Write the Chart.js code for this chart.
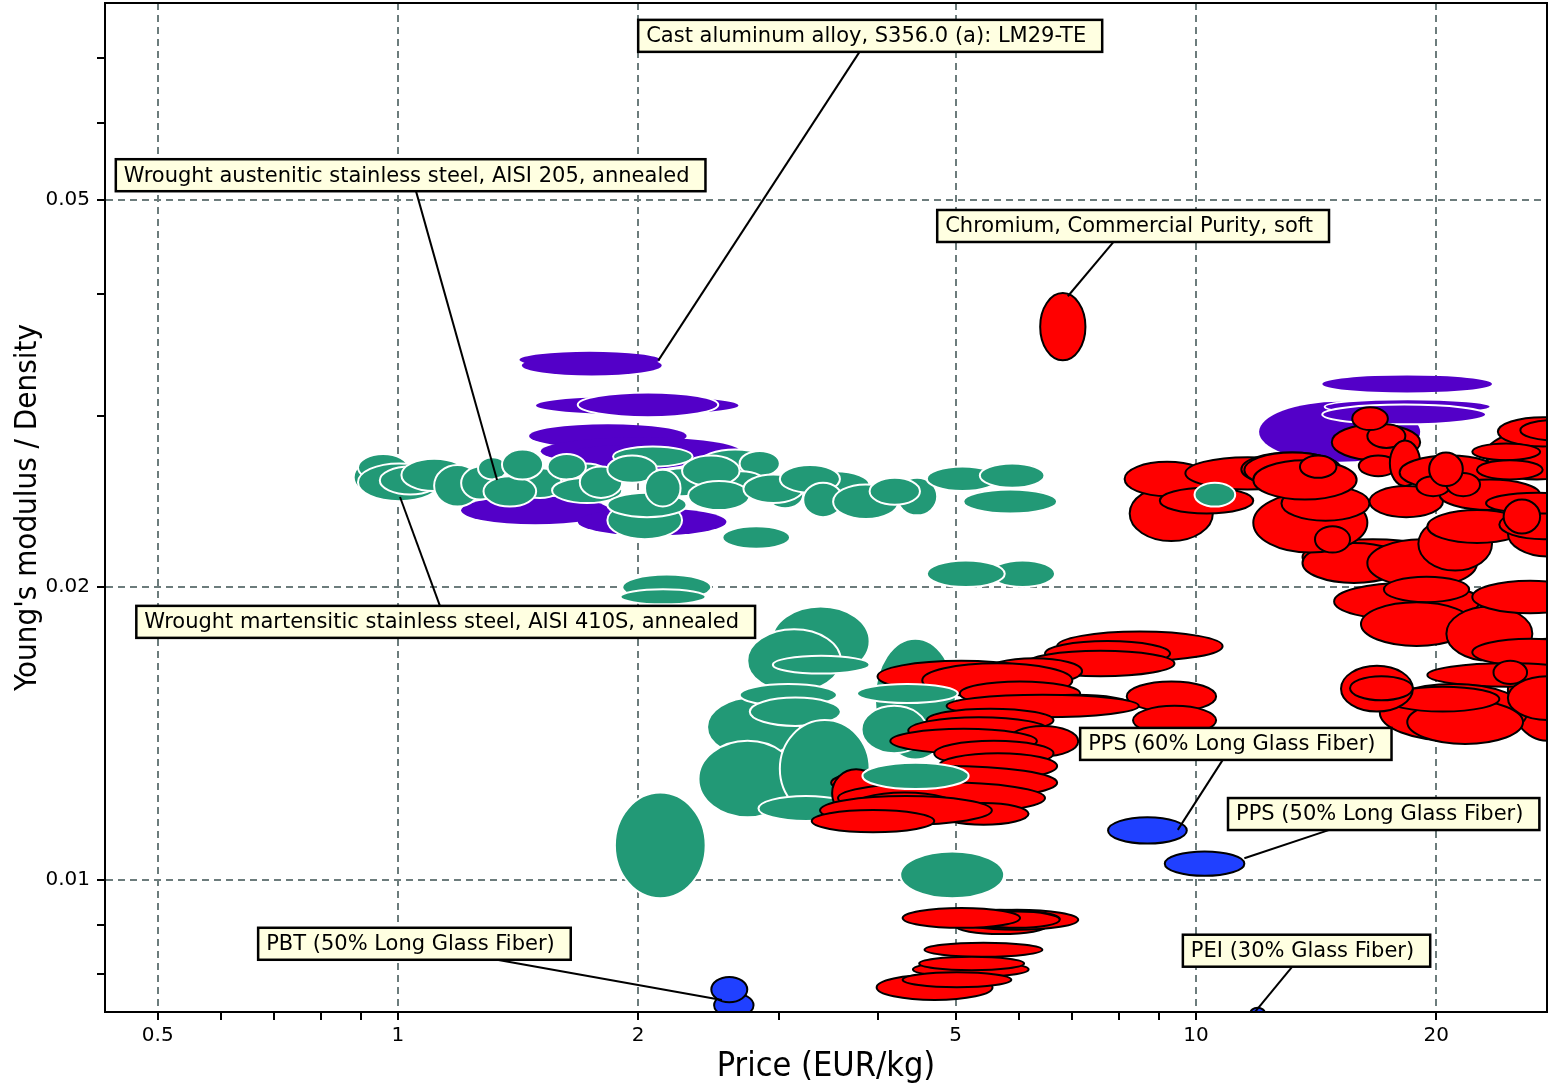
<!DOCTYPE html>
<html>
<head>
<meta charset="utf-8">
<script src="https://cdn.jsdelivr.net/npm/chart.js@4.4.1/dist/chart.umd.min.js"></script>
<style>
html,body{margin:0;padding:0;background:#ffffff;}
#wrap{width:1558px;height:1090px;}
</style>
</head>
<body>
<div id="wrap"><canvas id="c" width="1558" height="1090"></canvas></div>
<script>
// ---------- axes ----------
const xTickValues = [0.5, 0.6, 0.7, 0.8, 0.9, 1, 2, 3, 4, 5, 6, 7, 8, 9, 10, 20];
const xTickLabels = [0.5, 1, 2, 5, 10, 20];
const yTickValues = [0.008, 0.009, 0.01, 0.02, 0.03, 0.04, 0.05, 0.06, 0.07];
const yTickLabels = [0.01, 0.02, 0.05];
const xRange = [0.4294, 27.54];
const yRange = [0.007318, 0.07966];
const xTitle = 'Price (EUR/kg)';
const yTitle = "Young's modulus / Density";

// ---------- material ranges: [price low, price high, E/rho low, E/rho high] ----------
const alloyRanges = [
  [12.0, 19.1, 0.0269, 0.0310],
  [14.4, 23.5, 0.0317, 0.0330],
  [1.49, 2.67, 0.0301, 0.0314],
  [1.46, 2.30, 0.0278, 0.0294],
  [1.51, 2.68, 0.0267, 0.0285],
  [1.60, 2.39, 0.0264, 0.0280],
  [1.20, 1.84, 0.0232, 0.0248],
  [1.68, 2.58, 0.0226, 0.0241],
  [1.42, 2.13, 0.0336, 0.0349],
  [1.43, 2.14, 0.0330, 0.0346]
];
const alloyOutlinedRanges = [
  [1.68, 2.52, 0.0299, 0.0317],
  [14.5, 23.4, 0.0301, 0.0312],
  [14.4, 23.1, 0.0294, 0.0308]
];
const steelRanges = [
  [0.88, 1.00, 0.0249, 0.0270],
  [0.891, 1.03, 0.0257, 0.0274],
  [0.891, 1.13, 0.0245, 0.0268],
  [0.949, 1.13, 0.0249, 0.0266],
  [1.05, 1.25, 0.0250, 0.0268],
  [1.01, 1.22, 0.0251, 0.0271],
  [1.11, 1.27, 0.0242, 0.0267],
  [1.20, 1.34, 0.0246, 0.0266],
  [1.26, 1.37, 0.0258, 0.0272],
  [1.40, 1.62, 0.0247, 0.0265],
  [1.28, 1.49, 0.0242, 0.0260],
  [1.35, 1.52, 0.0258, 0.0277],
  [1.60, 1.85, 0.0250, 0.0268],
  [1.54, 1.72, 0.0258, 0.0274],
  [1.86, 2.34, 0.0266, 0.0279],
  [1.56, 1.91, 0.0244, 0.0259],
  [1.69, 1.91, 0.0247, 0.0266],
  [1.83, 2.11, 0.0256, 0.0273],
  [1.83, 2.27, 0.0224, 0.0245],
  [1.83, 2.30, 0.0236, 0.0250],
  [2.10, 2.45, 0.0248, 0.0265],
  [2.04, 2.26, 0.0242, 0.0264],
  [2.39, 2.93, 0.0260, 0.0277],
  [2.68, 3.01, 0.0260, 0.0276],
  [2.50, 2.90, 0.0247, 0.0263],
  [2.27, 2.68, 0.0254, 0.0273],
  [2.31, 2.76, 0.0240, 0.0257],
  [2.90, 3.22, 0.0241, 0.0257],
  [2.71, 3.22, 0.0244, 0.0261],
  [3.20, 3.90, 0.0247, 0.0263],
  [3.01, 3.58, 0.0250, 0.0267],
  [3.22, 3.61, 0.0236, 0.0256],
  [3.51, 4.24, 0.0235, 0.0255],
  [4.22, 4.74, 0.0237, 0.0259],
  [3.90, 4.51, 0.0243, 0.0259],
  [4.60, 5.65, 0.0251, 0.0266],
  [5.36, 6.46, 0.0253, 0.0268],
  [5.11, 6.70, 0.0238, 0.0252],
  [2.55, 3.10, 0.0219, 0.0231],
  [5.52, 6.66, 0.0200, 0.0213],
  [4.60, 5.76, 0.0200, 0.0213],
  [1.91, 2.47, 0.0194, 0.0206],
  [1.90, 2.43, 0.0192, 0.0199],
  [2.94, 3.90, 0.0162, 0.0191],
  [2.74, 3.59, 0.0156, 0.0181],
  [2.95, 3.90, 0.0163, 0.0170],
  [2.44, 3.19, 0.0134, 0.0154],
  [2.68, 3.55, 0.0151, 0.0159],
  [2.76, 3.59, 0.0144, 0.0154],
  [2.38, 3.16, 0.0116, 0.0139],
  [3.01, 3.90, 0.0116, 0.0146],
  [2.83, 3.72, 0.0115, 0.0122],
  [3.96, 5.00, 0.0133, 0.0177],
  [3.81, 4.60, 0.0135, 0.0151],
  [1.87, 2.43, 0.00958, 0.0123],
  [4.26, 5.75, 0.00958, 0.0107]
];
const metalRanges = [
  [6.38, 7.27, 0.0342, 0.0401],
  [6.70, 10.8, 0.0168, 0.0180],
  [6.47, 9.28, 0.0166, 0.0176],
  [6.13, 9.40, 0.0162, 0.0172],
  [5.45, 7.20, 0.0159, 0.0169],
  [3.99, 6.47, 0.0156, 0.0168],
  [4.54, 7.00, 0.0154, 0.0167],
  [5.06, 7.16, 0.0151, 0.0160],
  [8.19, 10.6, 0.0149, 0.0160],
  [8.34, 10.6, 0.0141, 0.0151],
  [6.02, 8.29, 0.0148, 0.0155],
  [4.87, 8.48, 0.0147, 0.0155],
  [4.60, 6.63, 0.0142, 0.0150],
  [4.36, 6.55, 0.0138, 0.0147],
  [5.81, 7.12, 0.0134, 0.0144],
  [4.14, 6.32, 0.0135, 0.0143],
  [4.70, 6.63, 0.0131, 0.0139],
  [4.76, 6.70, 0.0127, 0.0135],
  [3.49, 6.70, 0.0121, 0.0131],
  [3.50, 4.02, 0.0116, 0.0130],
  [3.56, 6.47, 0.0117, 0.0126],
  [3.68, 5.06, 0.0114, 0.0123],
  [4.76, 6.17, 0.0114, 0.0120],
  [3.38, 5.55, 0.0114, 0.0122],
  [3.30, 4.70, 0.0112, 0.0118],
  [5.00, 6.50, 0.00880, 0.00914],
  [5.00, 7.12, 0.00889, 0.00932],
  [4.78, 6.75, 0.00893, 0.00932],
  [5.29, 6.75, 0.00893, 0.00928],
  [4.29, 6.02, 0.00893, 0.00936],
  [4.57, 6.42, 0.00834, 0.00862],
  [4.42, 6.17, 0.00795, 0.00824],
  [4.50, 6.09, 0.00808, 0.00834],
  [3.98, 5.56, 0.00753, 0.00799],
  [4.29, 5.87, 0.00776, 0.00804],
  [8.26, 10.5, 0.0223, 0.0254],
  [8.14, 10.4, 0.0248, 0.0269],
  [9.01, 11.8, 0.0238, 0.0253],
  [9.70, 13.9, 0.0252, 0.0272],
  [13.6, 20.4, 0.0206, 0.0224],
  [13.6, 18.3, 0.0202, 0.0222],
  [16.4, 22.5, 0.0200, 0.0224],
  [19.0, 23.5, 0.0208, 0.0236],
  [19.5, 26.0, 0.0222, 0.0240],
  [14.9, 22.7, 0.0185, 0.0202],
  [17.2, 22.0, 0.0193, 0.0205],
  [16.1, 22.2, 0.0174, 0.0193],
  [20.6, 26.4, 0.0168, 0.0191],
  [22.2, 31.0, 0.0188, 0.0203],
  [24.6, 31.0, 0.0215, 0.0240],
  [24.0, 31.0, 0.0224, 0.0240],
  [11.9, 16.2, 0.0220, 0.0246],
  [11.8, 16.4, 0.0217, 0.0250],
  [12.8, 16.5, 0.0234, 0.0254],
  [14.1, 15.6, 0.0217, 0.0231],
  [11.4, 15.2, 0.0254, 0.0275],
  [11.5, 15.2, 0.0253, 0.0275],
  [11.8, 15.9, 0.0246, 0.0270],
  [13.5, 15.0, 0.0259, 0.0273],
  [14.8, 19.1, 0.0270, 0.0294],
  [16.4, 18.3, 0.0278, 0.0294],
  [15.7, 17.4, 0.0290, 0.0306],
  [16.0, 17.9, 0.0260, 0.0273],
  [17.5, 19.1, 0.0254, 0.0283],
  [16.5, 20.4, 0.0236, 0.0254],
  [18.0, 24.0, 0.0252, 0.0273],
  [20.2, 27.0, 0.0240, 0.0258],
  [18.9, 20.8, 0.0248, 0.0260],
  [20.6, 22.7, 0.0248, 0.0262],
  [19.6, 21.6, 0.0254, 0.0275],
  [23.1, 31.0, 0.0258, 0.0290],
  [23.9, 31.0, 0.0279, 0.0299],
  [25.5, 31.0, 0.0283, 0.0297],
  [22.2, 27.0, 0.0270, 0.0281],
  [22.5, 27.2, 0.0258, 0.0270],
  [23.1, 31.0, 0.0238, 0.0250],
  [24.3, 27.0, 0.0227, 0.0246],
  [24.6, 31.0, 0.0139, 0.0177],
  [22.2, 31.0, 0.0166, 0.0177],
  [19.5, 31.0, 0.0158, 0.0167],
  [17.0, 26.0, 0.0139, 0.0159],
  [18.4, 25.7, 0.0138, 0.0153],
  [17.3, 24.0, 0.0149, 0.0158],
  [15.2, 18.7, 0.0149, 0.0166],
  [15.6, 18.7, 0.0153, 0.0162],
  [23.6, 26.0, 0.0159, 0.0168],
  [24.6, 31.0, 0.0146, 0.0162]
];
const steelFrontRanges = [
  [3.76, 5.03, 0.0152, 0.0159],
  [3.82, 5.19, 0.0124, 0.0132],
  [9.96, 11.2, 0.0242, 0.0256]
];
const polymerRanges = [
  [7.76, 9.74, 0.0109, 0.0116],
  [9.14, 11.5, 0.0101, 0.0107],
  [2.49, 2.79, 0.00723, 0.00765],
  [2.47, 2.74, 0.00749, 0.00795],
  [11.7, 12.2, 0.00721, 0.00739]
];

// ---------- labels ----------
const annotationTexts = [
  'Cast aluminum alloy, S356.0 (a): LM29-TE',
  'Wrought austenitic stainless steel, AISI 205, annealed',
  'Chromium, Commercial Purity, soft',
  'Wrought martensitic stainless steel, AISI 410S, annealed',
  'PPS (60% Long Glass Fiber)',
  'PPS (50% Long Glass Fiber)',
  'PBT (50% Long Glass Fiber)',
  'PEI (30% Glass Fiber)'
];
const annotationBoxAt = [
  [2.00, 0.0737], [0.443, 0.0530], [4.74, 0.0470], [0.470, 0.01842],
  [7.16, 0.0138], [10.97, 0.01169], [0.668, 0.00860], [9.63, 0.00846]
];
const annotationLineFrom = [
  [3.79, 0.0710], [1.053, 0.0511], [7.89, 0.0453], [1.129, 0.01912],
  [10.8, 0.01328], [14.7, 0.01126], [1.331, 0.00828], [13.19, 0.00814]
];
const annotationTargets = [
  [2.12, 0.0342], [1.331, 0.02577], [6.91, 0.0398], [1.006, 0.02475],
  [9.49, 0.01126], [11.5, 0.01053], [2.547, 0.00753], [11.86, 0.00732]
];

// ---------- styling ----------
const GREEN = '#229976';
const PURPLE = '#5300C8';
const RED = '#FF0000';
const BLUE = '#2040FF';
const GRID = '#6C7C7C';
const families = [
  {name: 'Aluminum alloys', ranges: alloyRanges, fill: PURPLE, stroke: null, width: 0},
  {name: 'Aluminum alloys ', ranges: alloyOutlinedRanges, fill: PURPLE, stroke: '#ffffff', width: 2},
  {name: 'Stainless steels', ranges: steelRanges, fill: GREEN, stroke: '#ffffff', width: 2},
  {name: 'Other metals', ranges: metalRanges, fill: RED, stroke: '#000000', width: 2},
  {name: 'Stainless steels ', ranges: steelFrontRanges, fill: GREEN, stroke: '#ffffff', width: 2},
  {name: 'Polymers', ranges: polymerRanges, fill: BLUE, stroke: '#000000', width: 2}
];

const datasets = families.map(f => ({
  label: f.name,
  data: f.ranges.map(r => ({x: Math.sqrt(r[0] * r[1]), y: Math.sqrt(r[2] * r[3])})),
  ranges: f.ranges,
  fillColor: f.fill,
  strokeColor: f.stroke,
  strokeWidth: f.width,
  pointRadius: 0,
  pointHoverRadius: 0,
  showLine: false
}));

const ellipsePlugin = {
  id: 'rangeEllipses',
  afterDatasetsDraw(chart) {
    const {ctx, chartArea: a, scales: {x, y}} = chart;
    ctx.save();
    ctx.beginPath();
    ctx.rect(a.left, a.top, a.right - a.left, a.bottom - a.top);
    ctx.clip();
    chart.data.datasets.forEach(ds => {
      ds.ranges.forEach(r => {
        const x1 = x.getPixelForValue(r[0]), x2 = x.getPixelForValue(r[1]);
        const y1 = y.getPixelForValue(r[3]), y2 = y.getPixelForValue(r[2]);
        ctx.beginPath();
        ctx.ellipse((x1 + x2) / 2, (y1 + y2) / 2, Math.abs(x2 - x1) / 2, Math.abs(y2 - y1) / 2, 0, 0, Math.PI * 2);
        ctx.fillStyle = ds.fillColor;
        ctx.fill();
        if (ds.strokeColor) {
          ctx.lineWidth = ds.strokeWidth;
          ctx.strokeStyle = ds.strokeColor;
          ctx.stroke();
        }
      });
    });
    ctx.restore();

    // frame
    ctx.save();
    ctx.lineWidth = 2;
    ctx.strokeStyle = '#000';
    ctx.strokeRect(a.left, a.top, a.right - a.left, a.bottom - a.top);
    ctx.restore();

    // annotations
    ctx.save();
    ctx.font = '21px "DejaVu Sans", Verdana, sans-serif';
    ctx.textBaseline = 'middle';
    annotationTexts.forEach((t, i) => {
      const fx = x.getPixelForValue(annotationLineFrom[i][0]);
      const fy = y.getPixelForValue(annotationLineFrom[i][1]);
      const tx = x.getPixelForValue(annotationTargets[i][0]);
      const ty = y.getPixelForValue(annotationTargets[i][1]);
      ctx.beginPath();
      ctx.moveTo(fx, fy);
      ctx.lineTo(tx, ty);
      ctx.lineWidth = 2;
      ctx.strokeStyle = '#000';
      ctx.stroke();
      const bx = x.getPixelForValue(annotationBoxAt[i][0]);
      const by = y.getPixelForValue(annotationBoxAt[i][1]);
      const w = ctx.measureText(t).width + 24;
      const h = 32;
      ctx.fillStyle = '#FFFFE1';
      ctx.fillRect(bx, by - h / 2, w, h);
      ctx.lineWidth = 2.5;
      ctx.strokeStyle = '#000';
      ctx.strokeRect(bx, by - h / 2, w, h);
      ctx.fillStyle = '#000';
      ctx.fillText(t, bx + 8, by + 1);
    });
    ctx.restore();
  }
};

const tickFont = {family: '"DejaVu Sans", Verdana, sans-serif', size: 20};
const titleFamily = '"DejaVu Sans Condensed", "DejaVu Sans", Tahoma, sans-serif';

new Chart(document.getElementById('c'), {
  type: 'scatter',
  data: {datasets},
  plugins: [ellipsePlugin],
  options: {
    responsive: false,
    devicePixelRatio: 1,
    animation: false,
    events: [],
    layout: {padding: {top: 3, right: 11, bottom: 0, left: 0}},
    plugins: {legend: {display: false}, tooltip: {enabled: false}},
    scales: {
      x: {
        type: 'logarithmic',
        position: 'bottom',
        min: xRange[0],
        max: xRange[1],
        afterBuildTicks: s => { s.ticks = xTickValues.map(v => ({value: v})); },
        afterFit: s => { s.height = 78; s.paddingLeft = 0; s.paddingRight = 0; },
        ticks: {
          autoSkip: false,
          maxRotation: 0,
          padding: 4,
          color: '#000',
          font: tickFont,
          callback: v => xTickLabels.includes(v) ? String(v) : ''
        },
        grid: {
          color: c => (c.tick && xTickLabels.includes(c.tick.value)) ? GRID : 'rgba(0,0,0,0)',
          lineWidth: 2,
          tickColor: '#000',
          tickWidth: 2,
          tickLength: 8
        },
        border: {display: true, color: '#000', width: 2, dash: [7, 5]},
        title: {
          display: true,
          text: xTitle,
          color: '#000',
          font: {family: titleFamily, size: 34, lineHeight: 1},
          padding: {top: 0, bottom: 6}
        }
      },
      y: {
        type: 'logarithmic',
        position: 'left',
        min: yRange[0],
        max: yRange[1],
        afterBuildTicks: s => { s.ticks = yTickValues.map(v => ({value: v})); },
        afterFit: s => { s.width = 105; s.paddingTop = 0; s.paddingBottom = 0; },
        ticks: {
          autoSkip: false,
          padding: 7,
          color: '#000',
          font: tickFont,
          callback: v => yTickLabels.includes(v) ? String(v) : ''
        },
        grid: {
          color: c => (c.tick && yTickLabels.includes(c.tick.value)) ? GRID : 'rgba(0,0,0,0)',
          lineWidth: 2,
          tickColor: '#000',
          tickWidth: 2,
          tickLength: 8
        },
        border: {display: true, color: '#000', width: 2, dash: [7, 5]},
        title: {
          display: true,
          text: yTitle,
          color: '#000',
          font: {family: titleFamily, size: 31, lineHeight: 1},
          padding: {top: 12, bottom: 0}
        }
      }
    }
  }
});
</script>
</body>
</html>
